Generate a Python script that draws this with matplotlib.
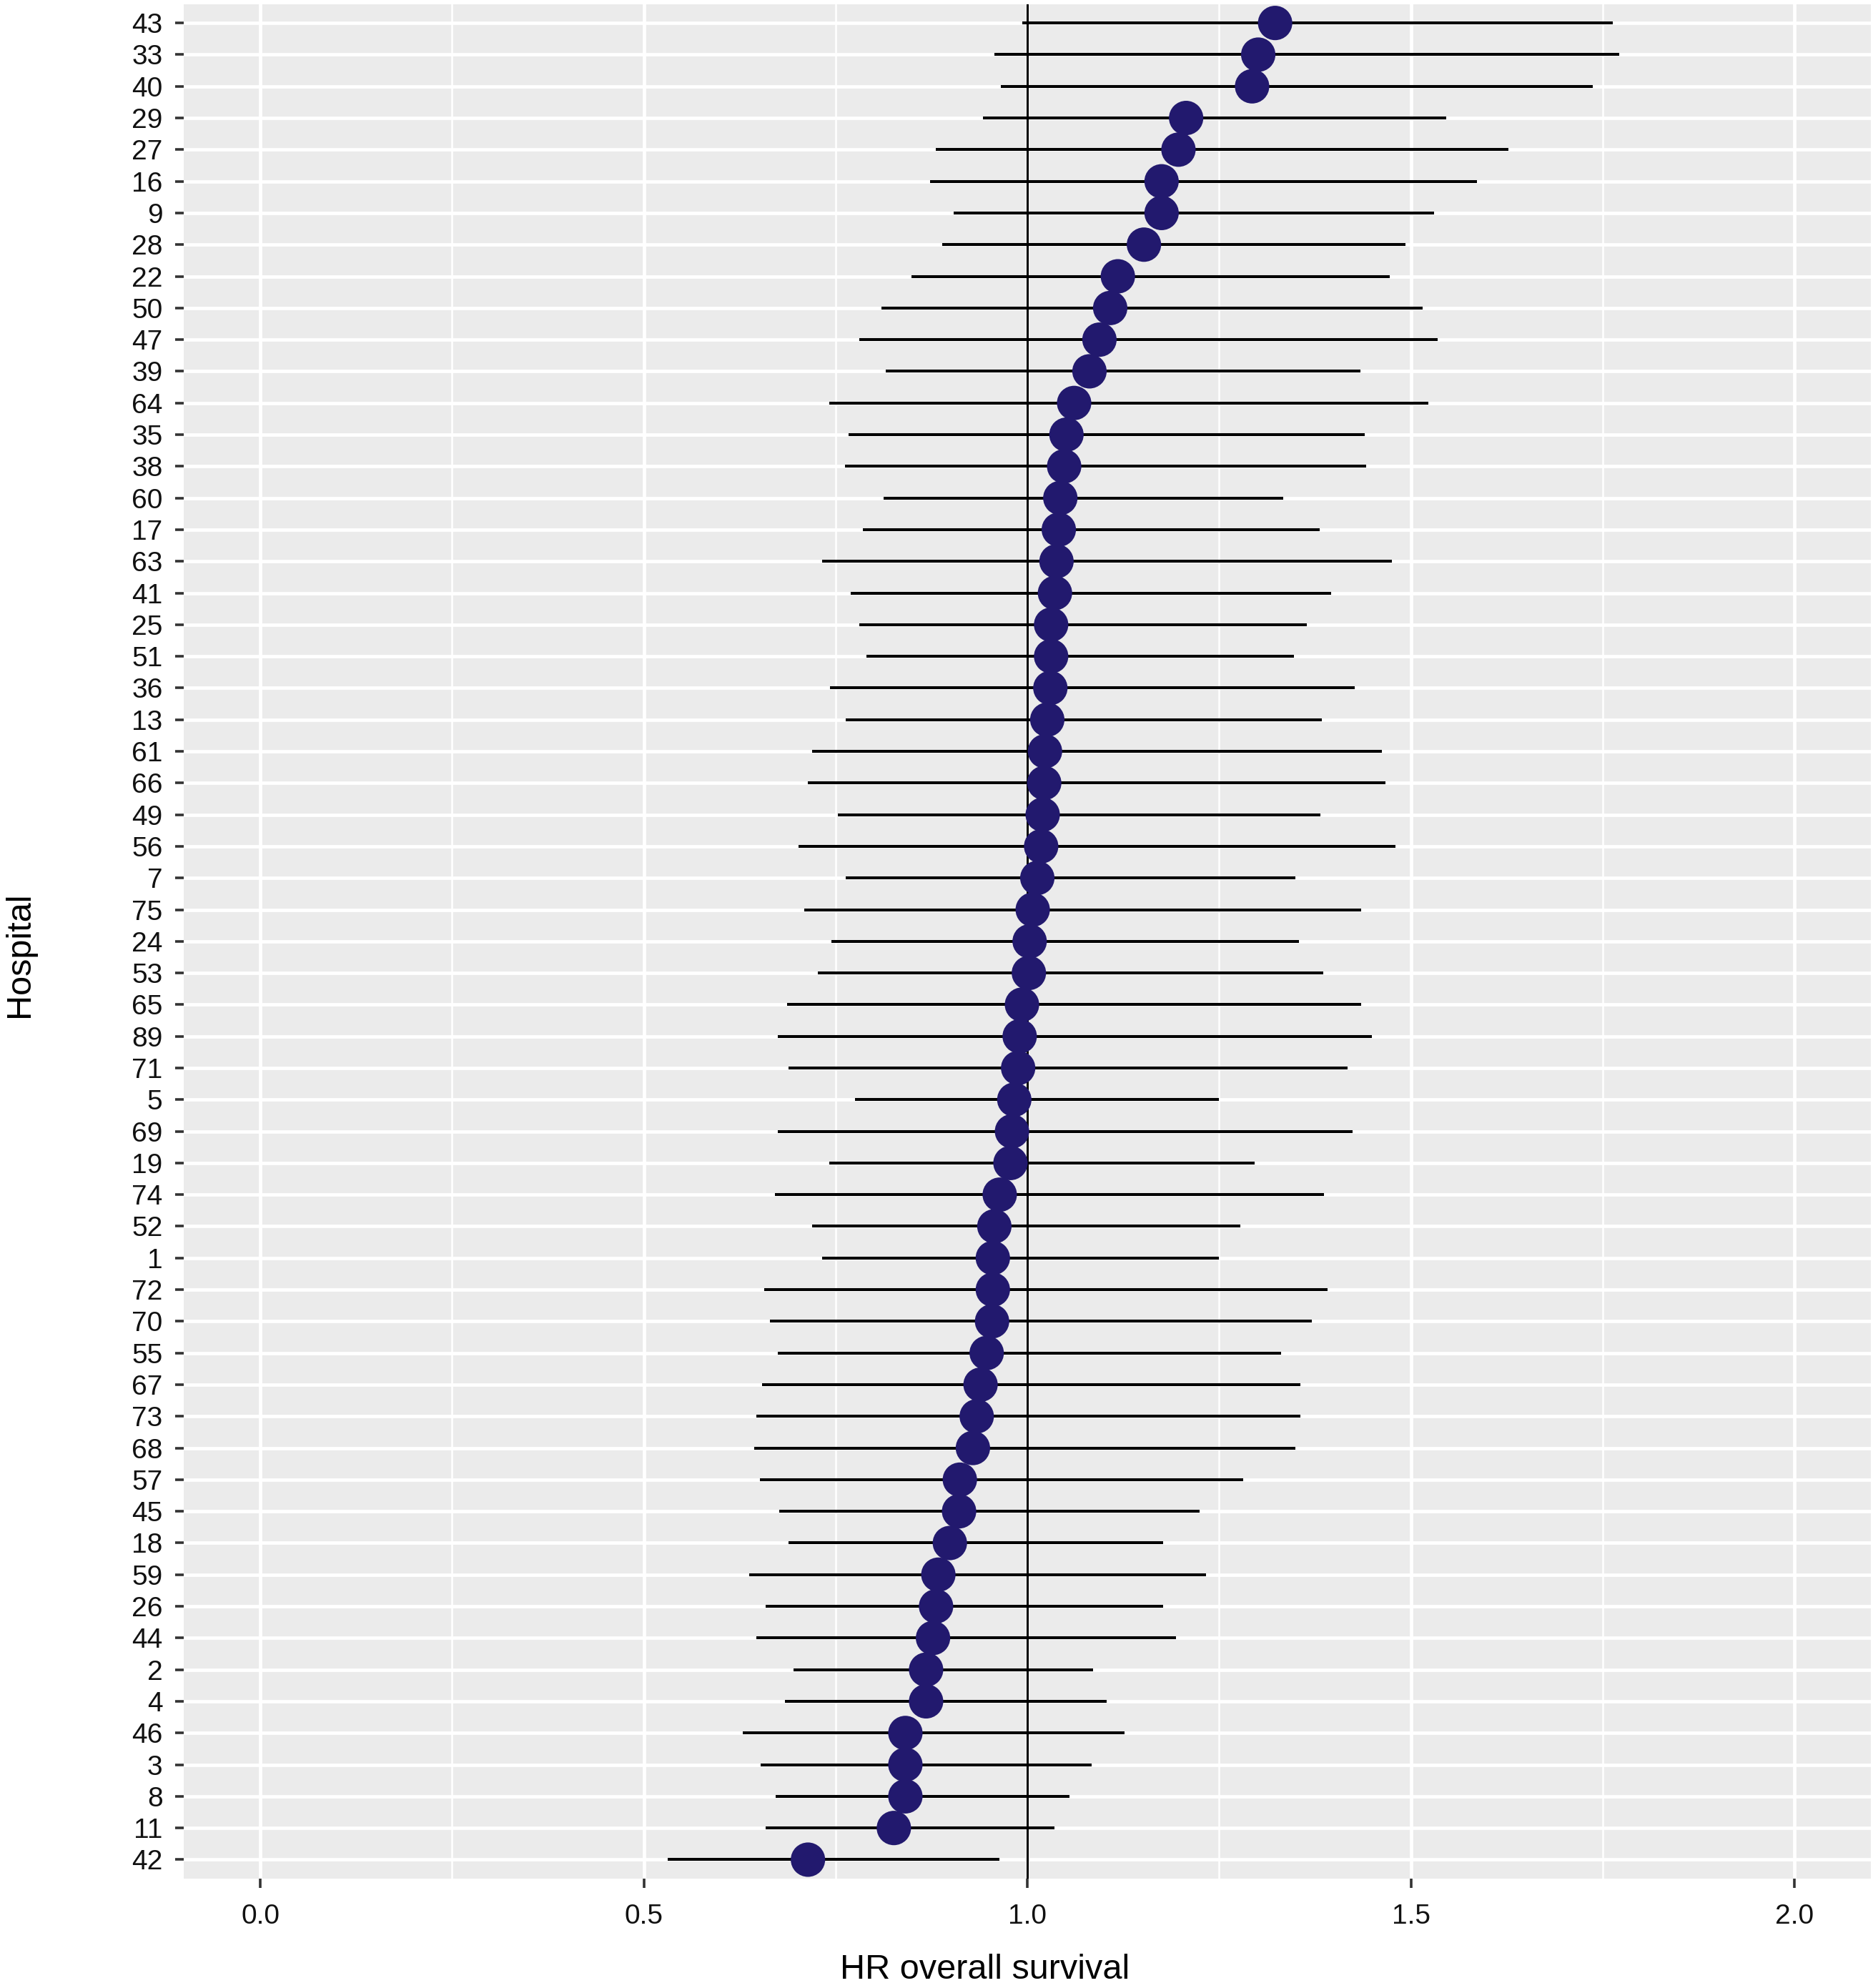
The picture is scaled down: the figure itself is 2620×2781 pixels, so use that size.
import numpy as np
import matplotlib
matplotlib.use("Agg")
import matplotlib.pyplot as plt

# hospitals, top to bottom as in the figure
hospitals = ["43", "33", "40", "29", "27", "16", "9", "28", "22", "50",
             "47", "39", "64", "35", "38", "60", "17", "63", "41", "25",
             "51", "36", "13", "61", "66", "49", "56", "7", "75", "24",
             "53", "65", "89", "71", "5", "69", "19", "74", "52", "1",
             "72", "70", "55", "67", "73", "68", "57", "45", "18", "59",
             "26", "44", "2", "4", "46", "3", "8", "11", "42"]

hr = [1.323, 1.301, 1.293, 1.207, 1.197, 1.175, 1.175, 1.152, 1.118, 1.108,
      1.094, 1.081, 1.061, 1.051, 1.048, 1.043, 1.041, 1.038, 1.036, 1.031,
      1.031, 1.030, 1.026, 1.023, 1.022, 1.020, 1.018, 1.013, 1.007, 1.003,
      1.002, 0.993, 0.990, 0.988, 0.983, 0.980, 0.978, 0.964, 0.957, 0.955,
      0.955, 0.954, 0.947, 0.939, 0.934, 0.929, 0.912, 0.911, 0.899, 0.884,
      0.881, 0.877, 0.868, 0.868, 0.841, 0.841, 0.841, 0.826, 0.714]

lower = [0.993, 0.957, 0.965, 0.942, 0.881, 0.873, 0.904, 0.889, 0.849, 0.810,
         0.781, 0.815, 0.742, 0.767, 0.762, 0.813, 0.786, 0.732, 0.770, 0.781,
         0.790, 0.743, 0.763, 0.719, 0.714, 0.753, 0.702, 0.763, 0.709, 0.745,
         0.727, 0.687, 0.675, 0.689, 0.775, 0.675, 0.742, 0.671, 0.719, 0.732,
         0.657, 0.664, 0.675, 0.654, 0.647, 0.644, 0.651, 0.677, 0.689, 0.637,
         0.659, 0.647, 0.695, 0.684, 0.629, 0.652, 0.672, 0.659, 0.531]

upper = [1.763, 1.772, 1.737, 1.546, 1.627, 1.586, 1.530, 1.493, 1.472, 1.515,
         1.535, 1.434, 1.523, 1.440, 1.442, 1.334, 1.381, 1.475, 1.396, 1.364,
         1.348, 1.427, 1.384, 1.462, 1.467, 1.382, 1.480, 1.349, 1.435, 1.354,
         1.386, 1.435, 1.449, 1.417, 1.250, 1.424, 1.296, 1.387, 1.278, 1.250,
         1.391, 1.371, 1.331, 1.356, 1.356, 1.349, 1.281, 1.225, 1.177, 1.233,
         1.177, 1.194, 1.086, 1.103, 1.127, 1.084, 1.055, 1.035, 0.964]

x_ticks = [0.0, 0.5, 1.0, 1.5, 2.0]

plt.rcParams["font.family"] = ["Liberation Sans", "DejaVu Sans"]

fig = plt.figure(figsize=(26.2, 27.81), dpi=100)
ax = fig.add_axes([0.098, 0.055, 0.901, 0.943])

n = len(hospitals)
y = np.arange(n)[::-1]

ax.set_facecolor("#EBEBEB")
ax.hlines(y, lower, upper, color="black", linewidth=2.9, zorder=3)
ax.axvline(1.0, color="black", linewidth=2.2, zorder=4)
ax.scatter(hr, y, s=1200, color="#22196E", edgecolors="none", zorder=5)

ax.set_xlim(-0.1, 2.1)
ax.set_ylim(-0.6, n - 0.4)
ax.set_xticks(x_ticks)
ax.set_xticklabels([f"{t:.1f}" for t in x_ticks])
ax.set_xticks(np.arange(0.25, 2.0, 0.5), minor=True)
ax.set_yticks(y)
ax.set_yticklabels(hospitals)

ax.grid(which="major", color="white", linewidth=3.4, zorder=0)
ax.grid(which="minor", axis="x", color="white", linewidth=1.8, zorder=0)
ax.set_axisbelow(True)
for s in ax.spines.values():
    s.set_visible(False)

ax.tick_params(which="major", length=9, width=2.6, color="#333333",
               labelsize=28, labelcolor="#111111", pad=12)
ax.tick_params(axis="x", pad=16)
ax.tick_params(which="minor", length=0)

ax.set_xlabel("HR overall survival", fontsize=35)
ax.xaxis.set_label_coords(0.475, -0.040)
ax.set_ylabel("Hospital", fontsize=35, va="center")
ax.yaxis.set_label_coords(-0.097, 0.493)

fig.savefig("out.png", dpi=100, facecolor="white")
